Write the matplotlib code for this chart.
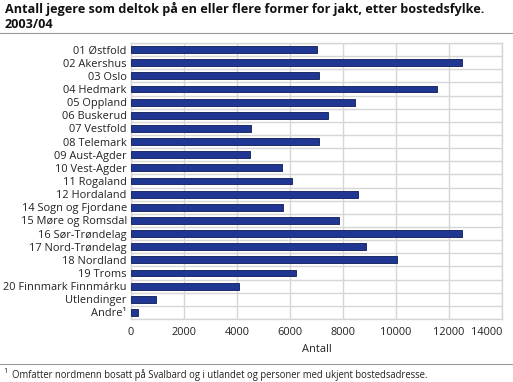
import matplotlib
matplotlib.use("Agg")
import matplotlib.pyplot as plt
from matplotlib.lines import Line2D

categories = ["01 Østfold", "02 Akershus", "03 Oslo", "04 Hedmark", "05 Oppland",
              "06 Buskerud", "07 Vestfold", "08 Telemark", "09 Aust-Agder",
              "10 Vest-Agder", "11 Rogaland", "12 Hordaland", "14 Sogn og Fjordane",
              "15 Møre og Romsdal", "16 Sør-Trøndelag", "17 Nord-Trøndelag",
              "18 Nordland", "19 Troms", "20 Finnmark Finnmárku", "Utlendinger",
              "Andre¹"]
values = [7000, 12480, 7100, 11560, 8460, 7430, 4530, 7100, 4480, 5710, 6090,
          8580, 5750, 7860, 12500, 8860, 10050, 6240, 4060, 950, 250]
xticks = [0, 2000, 4000, 6000, 8000, 10000, 12000, 14000]

title = "Antall jegere som deltok på en eller flere former for jakt, etter bostedsfylke.\n2003/04"
xlabel = "Antall"
footnote = "Omfatter nordmenn bosatt på Svalbard og i utlandet og personer med ukjent bostedsadresse."

plt.rcParams['font.family'] = ['Open Sans', 'DejaVu Sans']
W, H = 513, 382
fig = plt.figure(figsize=(W / 100, H / 100), dpi=100)
ax = fig.add_axes([131 / W, 1 - 319 / H, (502 - 131) / W, (319 - 43) / H])

n = len(categories)
ys = list(range(n))
ax.barh(ys, values, height=0.52, color="#1f3693", edgecolor="#0d1a55", linewidth=0.6, zorder=3)
ax.set_ylim(n - 0.5, -0.5)
ax.set_xlim(0, 14000)
ax.set_yticks(ys)
ax.set_yticklabels(categories, fontsize=7.9, color="#222222")
ax.set_xticks(xticks)
labels = ax.set_xticklabels([str(v) for v in xticks], fontsize=7.9, color="#222222")
labels[-1].set_ha('right')
ax.set_yticks([i + 0.5 for i in range(-1, n)], minor=True)
ax.tick_params(axis='both', which='both', length=0, pad=3)
ax.tick_params(axis='x', pad=6)
ax.grid(axis='x', which='major', color="#d6d6d6", linewidth=1.0, zorder=0)
ax.grid(axis='y', which='minor', color="#d6d6d6", linewidth=1.0, zorder=0)
ax.grid(axis='y', which='major', visible=False)
for s in ax.spines.values():
    s.set_color("#d6d6d6")
    s.set_linewidth(1.0)
ax.set_xlabel(xlabel, fontsize=7.9, color="#222222", labelpad=4)

fig.text(5 / W, 1 - 2 / H, title, fontsize=9.1, fontweight='bold', va='top', ha='left',
         color="#111111", linespacing=1.25)
fig.add_artist(Line2D([0, 1], [1 - 33 / H, 1 - 33 / H], color="#999999", linewidth=0.8))
fig.add_artist(Line2D([0, 1], [1 - 364 / H, 1 - 364 / H], color="#999999", linewidth=0.8))
fig.text(3 / W, 1 - 368 / H, "1", fontsize=5.2, va='top', ha='left', color="#222222")
fig.text(12 / W, 1 - 369 / H, footnote, fontsize=6.85, va='top', ha='left', color="#222222")

fig.savefig("out.png", dpi=100)
